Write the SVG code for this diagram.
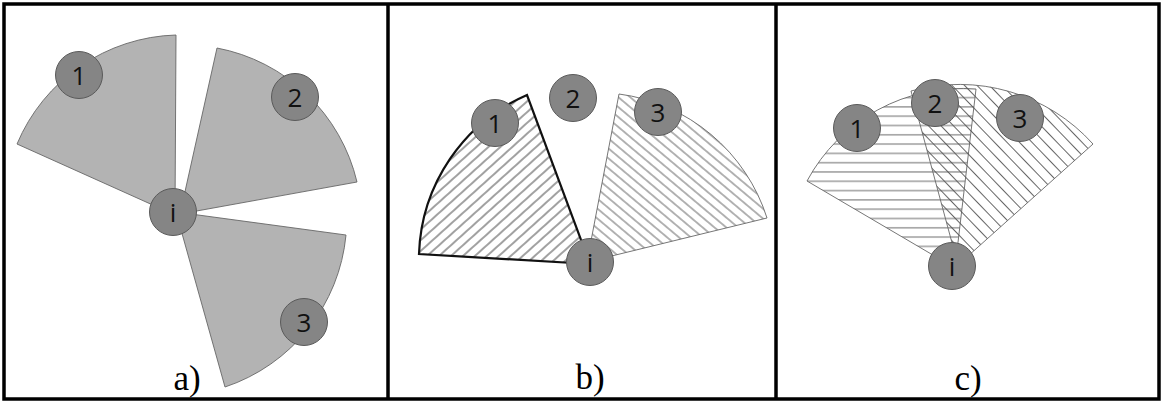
<svg xmlns="http://www.w3.org/2000/svg" width="1162" height="403" viewBox="0 0 1162 403">
<defs>
<style>
.frame{fill:none;stroke:#000;stroke-width:3.5}
.div{stroke:#000;stroke-width:3.5}
.solid{fill:#b3b3b3;stroke:#666;stroke-width:0.9}
.thin{stroke:#666;stroke-width:0.9}
.bold{stroke:#111;stroke-width:2.2;stroke-linejoin:miter}
.node circle{fill:#858585;stroke:#5a5a5a;stroke-width:1}
.node text{font-family:"Open Sans","DejaVu Sans",sans-serif;font-size:26px;fill:#111;text-anchor:middle}
.lab{font-family:"Liberation Serif",serif;font-size:35px;fill:#000;text-anchor:middle}
</style>
<pattern id="hatchR" width="20" height="8" patternUnits="userSpaceOnUse" patternTransform="rotate(-42)">
<line x1="0" y1="4" x2="20" y2="4" stroke="#444" stroke-width="1"/>
</pattern>
<pattern id="hatchL" width="20" height="7.6" patternUnits="userSpaceOnUse" patternTransform="rotate(40)">
<line x1="0" y1="3.8" x2="20" y2="3.8" stroke="#555" stroke-width="0.9"/>
</pattern>
<pattern id="hatchH" width="20" height="9.3" patternUnits="userSpaceOnUse">
<line x1="0" y1="4.6" x2="20" y2="4.6" stroke="#555" stroke-width="0.9"/>
</pattern>
<pattern id="hatchC" width="20" height="9" patternUnits="userSpaceOnUse" patternTransform="rotate(46)">
<line x1="0" y1="4.5" x2="20" y2="4.5" stroke="#555" stroke-width="0.9"/>
</pattern>
</defs>
<rect width="1162" height="403" fill="#fff"/>
<rect class="frame" x="4" y="4" width="1155" height="395"/>
<line class="div" x1="388" y1="4" x2="388" y2="399"/>
<line class="div" x1="776" y1="4" x2="776" y2="399"/>

<g id="connectors">
<path class="solid" d="M175,215 L17,144 A178,178 0 0 1 176,35 Z"/>
<path class="solid" d="M180,214 L217,48 A178,178 0 0 1 357,182 Z"/>
<path class="solid" d="M176,212 L346,235 A178,178 0 0 1 225,387 Z"/>
<path class="bold" fill="url(#hatchR)" d="M590,264 L419,254 A180,180 0 0 1 527,95 Z"/>
<path class="thin" fill="url(#hatchL)" d="M587,262 L619,94 A180,180 0 0 1 767,218 Z"/>
<path class="thin" fill="url(#hatchH)" d="M955,268 L807,181 A176,176 0 0 1 976,89 Z"/>
<path class="thin" fill="url(#hatchC)" d="M958,265 L911,91 A180,180 0 0 1 1093,144 Z"/>
</g>

<g id="a-1" class="node"><circle cx="79" cy="75" r="23.5"/><text x="79" y="84.5">1</text></g>
<g id="a-2" class="node"><circle cx="295" cy="97" r="23.5"/><text x="295" y="106.5">2</text></g>
<g id="a-3" class="node"><circle cx="304" cy="322" r="23.5"/><text x="304" y="331.5">3</text></g>
<g id="a-i" class="node"><circle cx="173" cy="212" r="23.5"/><text x="173" y="221.5">i</text></g>

<g id="b-1" class="node"><circle cx="495" cy="123" r="23.5"/><text x="495" y="132.5">1</text></g>
<g id="b-2" class="node"><circle cx="573" cy="98" r="23.5"/><text x="573" y="107.5">2</text></g>
<g id="b-3" class="node"><circle cx="658" cy="112" r="23.5"/><text x="658" y="121.5">3</text></g>
<g id="b-i" class="node"><circle cx="590" cy="262" r="23.5"/><text x="590" y="271.5">i</text></g>

<g id="c-1" class="node"><circle cx="857" cy="128" r="23.5"/><text x="857" y="137.5">1</text></g>
<g id="c-2" class="node"><circle cx="935" cy="103" r="23.5"/><text x="935" y="112.5">2</text></g>
<g id="c-3" class="node"><circle cx="1020" cy="118" r="23.5"/><text x="1020" y="127.5">3</text></g>
<g id="c-i" class="node"><circle cx="952" cy="266" r="23.5"/><text x="952" y="275.5">i</text></g>

<text class="lab" x="187" y="390">a)</text>
<text class="lab" x="590" y="389">b)</text>
<text class="lab" x="968" y="390">c)</text>
</svg>
